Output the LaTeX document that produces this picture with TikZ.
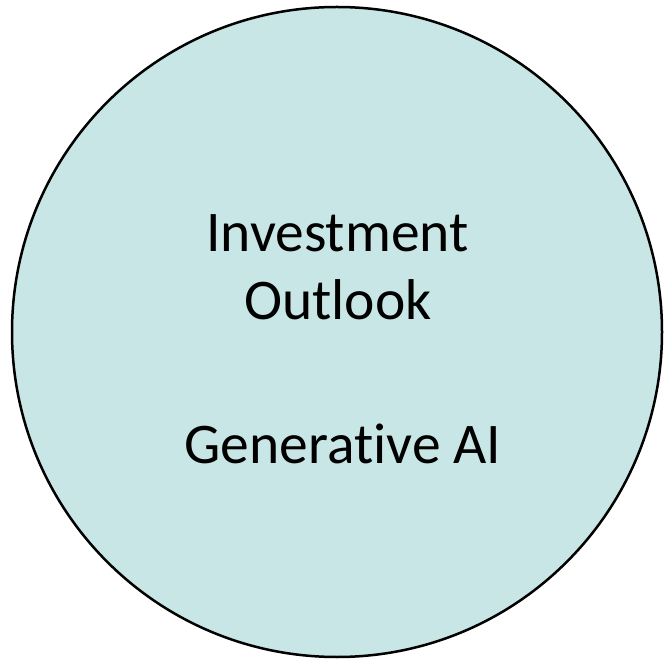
\documentclass[tikz,border=0pt]{standalone}
\usepackage{fontspec}
\setmainfont[Ligatures={NoCommon}]{Carlito}
\definecolor{circfill}{RGB}{200,230,229}
\begin{document}
\begin{tikzpicture}[x=1pt,y=1pt,
  lbl/.style={anchor=base,inner sep=0pt,font=\fontsize{57.5}{68}\selectfont}]
\useasboundingbox (0,0) rectangle (664,662);
\node[circle,draw=black,line width=2.5pt,fill=circfill,minimum size=650pt,inner sep=0pt] (c) at (337,330) {};
\node[lbl] (t1) at (337.5,410) {Investment};
\node[lbl] (t2) at (338,342) {Outlook};
\node[lbl] (t3) at (343,199) {Generative AI};
\end{tikzpicture}
\end{document}
